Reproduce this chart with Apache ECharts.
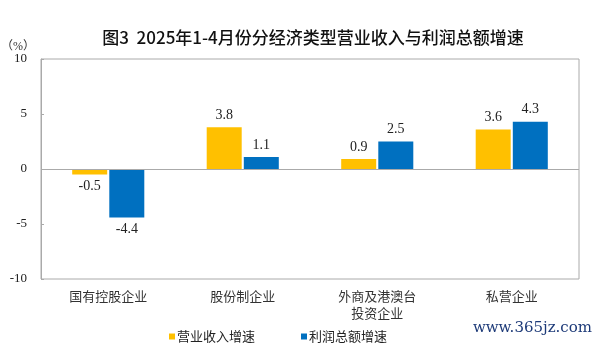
<!DOCTYPE html>
<html><head><meta charset="utf-8">
<script src="https://cdn.jsdelivr.net/npm/echarts@6/dist/echarts.min.js"></script>
<style>html,body{margin:0;padding:0;background:#fff}#c{width:600px;height:344px}</style>
</head><body><div id="c"></div>
<script>
const categories = ['国有控股企业', '股份制企业', '外商及港澳台\n投资企业', '私营企业'];
const revenueGrowth = [-0.5, 3.8, 0.9, 3.6];
const profitGrowth = [-4.4, 1.1, 2.5, 4.3];
const seriesNames = ['营业收入增速', '利润总额增速'];
const yTicks = [-10, -5, 0, 5, 10];

const serif = '"Liberation Serif","Noto Sans CJK SC",serif';
const chart = echarts.init(document.getElementById('c'));
const labelCfg = {
  show: true, position: 'outside', distance: 5,
  fontFamily: serif, fontSize: 14, color: '#222',
  formatter: p => p.value.toFixed(1)
};
chart.setOption({
  animation: false,
  title: {
    text: '图3  2025年1-4月份分经济类型营业收入与利润总额增速',
    left: 308, textAlign: 'center', top: 24,
    textStyle: { fontFamily: '"Noto Sans CJK SC",sans-serif', fontSize: 17, fontWeight: 500, color: '#111' }
  },
  legend: {
    data: seriesNames, left: 164, top: 325, icon: 'rect', itemWidth: 6, itemHeight: 6, itemGap: 46,
    textStyle: { fontFamily: '"Noto Sans CJK SC",sans-serif', fontSize: 13, color: '#222', padding: [0,0,0,-3] }
  },
  grid: { left: 41, right: 21, top: 59, bottom: 65, show: true, borderColor: '#aaa', borderWidth: 1,
    containLabel: false, outerBoundsMode: 'none' },
  xAxis: {
    type: 'category', data: categories,
    axisLine: { show: false, onZero: false }, axisTick: { show: false },
    axisLabel: { fontFamily: serif, fontSize: 13, color: '#333', margin: 10, lineHeight: 17 }
  },
  yAxis: {
    type: 'value', min: -10, max: 10, interval: 5,
    name: '（%）', nameLocation: 'end', nameGap: 6,
    nameTextStyle: { fontFamily: serif, fontSize: 12, color: '#333', align: 'right', padding: [0, 6, 0, 0] },
    axisLine: { show: true, lineStyle: { color: '#aaa' } },
    axisTick: { show: true, inside: true, length: 3, lineStyle: { color: '#aaa' } },
    splitLine: { show: false },
    axisLabel: { fontFamily: serif, fontSize: 13, color: '#222', margin: 14,
      formatter: v => yTicks.includes(v) ? String(v) : '' }
  },
  series: [
    { name: seriesNames[0], type: 'bar', data: revenueGrowth, barWidth: 35, barGap: '6%',
      itemStyle: { color: '#FFC000' }, label: labelCfg,
      markLine: { silent: true, symbol: 'none', label: { show: false },
        lineStyle: { color: '#aaa', type: 'solid', width: 1 }, data: [{ yAxis: 0 }] } },
    { name: seriesNames[1], type: 'bar', data: profitGrowth, barWidth: 35,
      itemStyle: { color: '#0070C0' }, label: labelCfg }
  ],
  graphic: [{
    type: 'text', right: 8, top: 321,
    style: { text: 'www.365jz.com', font: '15px "DejaVu Serif",serif', fill: '#1d3a78' }
  }]
});
</script></body></html>
